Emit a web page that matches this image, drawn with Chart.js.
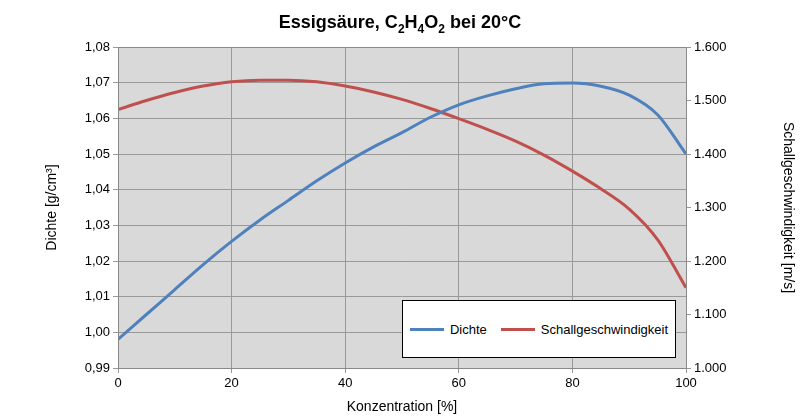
<!DOCTYPE html>
<html><head><meta charset="utf-8">
<script src="https://cdn.jsdelivr.net/npm/chart.js@4"></script>
<style>
body{margin:0;background:#fff;font-family:"Liberation Sans",Arial,sans-serif}
#wrap{position:relative;width:800px;height:416px}
#title{position:absolute;top:12px;left:0;width:800px;text-align:center;font-weight:bold;font-size:18px}
#title sub{font-size:12px}
#legend{position:absolute;left:402px;top:300px;width:272px;height:56px;background:#fff;border:1px solid #000;font-size:13px;display:flex;align-items:center;justify-content:center;gap:14px}
.li{display:flex;align-items:center;gap:6px}
.sw{width:34px;height:3px}
</style></head><body>
<div id="wrap">
<canvas id="c" width="800" height="416"></canvas>
<div id="title">Essigsäure, C<sub>2</sub>H<sub>4</sub>O<sub>2</sub> bei 20°C</div>
<div id="legend"><div class="li"><div class="sw" style="background:#4f81bd"></div>Dichte</div><div class="li"><div class="sw" style="background:#c0504d"></div>Schallgeschwindigkeit</div></div>
</div>
<script>
const konzentration = [0,5,10,15,20,25,30,35,40,45,50,55,60,65,70,75,80,85,90,95,100];
const dichte = [0.998,1.005,1.012,1.019,1.0255,1.0315,1.037,1.0425,1.0475,1.052,1.056,1.0603,1.0638,1.0663,1.0683,1.0697,1.0699,1.069,1.0665,1.061,1.050];
const schall = [1483,1500,1515,1527,1535,1538,1538,1535,1527,1516,1502,1485,1466,1446,1424,1398,1368,1335,1297,1240,1150];

const bgPlugin = {
  id:'bg',
  beforeDraw(ch){
    const a = ch.chartArea, x = ch.ctx;
    x.save(); x.fillStyle = '#d9d9d9'; x.fillRect(a.left,a.top,a.right-a.left,a.bottom-a.top); x.restore();
  },
  afterDatasetsDraw(ch){
    const a = ch.chartArea, x = ch.ctx;
    x.save(); x.strokeStyle = '#888'; x.lineWidth = 1; x.strokeRect(a.left+0.5,a.top+0.5,a.right-a.left,a.bottom-a.top); x.restore();
  }
};

new Chart(document.getElementById('c'), {
  type:'line',
  data:{
    labels:konzentration,
    datasets:[
      {label:'Dichte',data:konzentration.map((k,i)=>({x:k,y:dichte[i]})),borderColor:'#4f81bd',borderWidth:3,pointRadius:0,cubicInterpolationMode:'monotone',yAxisID:'y'},
      {label:'Schallgeschwindigkeit',data:konzentration.map((k,i)=>({x:k,y:schall[i]})),borderColor:'#c0504d',borderWidth:3,pointRadius:0,cubicInterpolationMode:'monotone',yAxisID:'y2'}
    ]
  },
  options:{
    responsive:false,animation:false,
    layout:{padding:{top:47,left:40,right:0,bottom:0}},
    plugins:{legend:{display:false},tooltip:{enabled:false}},
    scales:{
      x:{type:'linear',min:0,max:100,
        ticks:{stepSize:20,color:'#000',font:{size:13}},
        grid:{color:'#999',drawTicks:true,tickLength:5},
        title:{display:true,text:'Konzentration [%]',color:'#000',font:{size:14},padding:0},
        afterFit(s){s.height=48;}},
      y:{position:'left',min:0.99,max:1.08,
        ticks:{stepSize:0.01,color:'#000',font:{size:13},callback:v=>v.toFixed(2).replace('.',',')},
        grid:{color:'#999',tickLength:5},
        title:{display:true,text:'Dichte [g/cm³]',color:'#000',font:{size:14}},
        afterFit(s){s.width=78;}},
      y2:{position:'right',min:1000,max:1600,
        ticks:{stepSize:100,color:'#000',font:{size:13},callback:v=>(v/1000).toFixed(3)},
        grid:{drawOnChartArea:false,tickLength:5,color:'#999'},
        title:{display:true,text:'Schallgeschwindigkeit [m/s]',color:'#000',font:{size:14}},
        afterFit(s){s.width=114;}}
    }
  },
  plugins:[bgPlugin]
});
</script>
</body></html>
